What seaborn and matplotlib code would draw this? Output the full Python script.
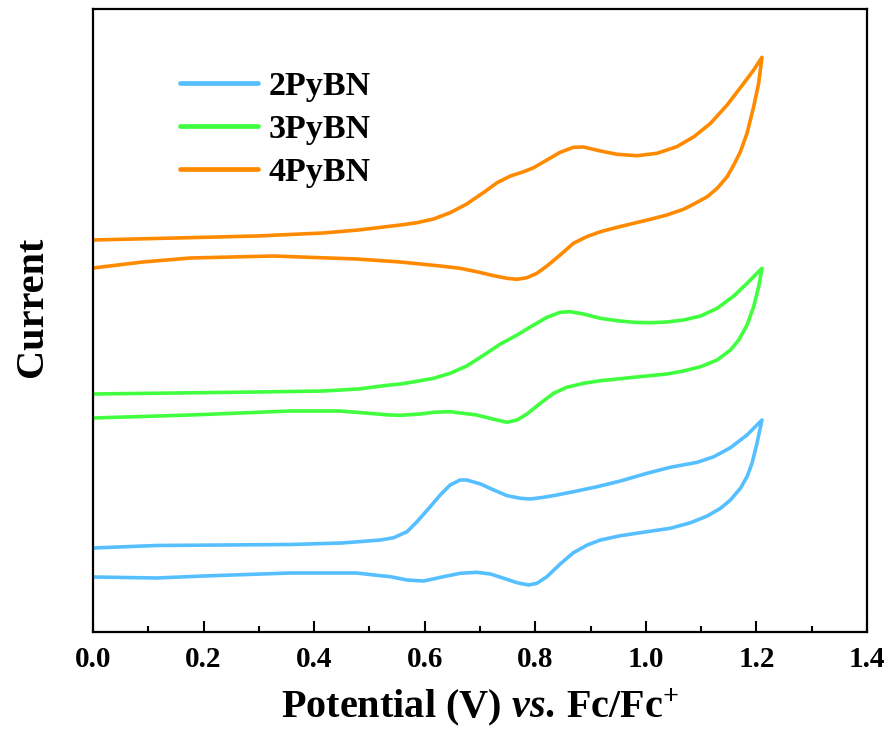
import numpy as np
import pandas as pd
import matplotlib
matplotlib.use("Agg")
import matplotlib.pyplot as plt
from matplotlib.ticker import MultipleLocator
import seaborn as sns

# ---- data (current in arbitrary units) ----
samples = ["2PyBN", "3PyBN", "4PyBN"]
colors = ["#55BFFF", "#3FFF3F", "#FF8A00"]

# 2PyBN: forward (anodic) sweep then reverse sweep
v_2_fwd = [0.000, 0.115, 0.235, 0.357, 0.450, 0.520, 0.544, 0.568, 0.586, 0.610, 0.628, 0.646, 0.664,
           0.676, 0.701, 0.725, 0.749, 0.773, 0.791, 0.815, 0.839, 0.869, 0.912, 0.954, 1.002, 1.044,
           1.093, 1.123, 1.153, 1.183, 1.210]
i_2_fwd = [84.0, 86.5, 87.0, 87.5, 89.0, 92.0, 94.3, 100.3, 110.3, 125.3, 137.0, 147.0, 152.0,
           152.0, 148.0, 142.0, 136.3, 133.7, 133.0, 134.7, 137.0, 140.3, 145.3, 151.0, 158.7, 164.7,
           169.7, 175.3, 184.3, 197.0, 212.0]
v_2_rev = [1.210, 1.201, 1.192, 1.183, 1.171, 1.153, 1.135, 1.111, 1.081, 1.044, 1.002, 0.954, 0.918,
           0.894, 0.869, 0.845, 0.821, 0.803, 0.788, 0.767, 0.743, 0.719, 0.694, 0.664, 0.634, 0.598,
           0.568, 0.538, 0.520, 0.477, 0.357, 0.200, 0.115, 0.000]
i_2_rev = [212.0, 188.7, 168.7, 155.3, 143.7, 132.0, 123.7, 116.0, 109.3, 103.7, 100.3, 96.3, 92.0,
           87.0, 79.3, 68.0, 55.3, 48.7, 47.0, 49.3, 53.7, 58.0, 59.7, 58.7, 55.3, 51.0,
           52.0, 55.3, 56.3, 59.0, 59.0, 56.0, 54.0, 55.0]

# 3PyBN
v_3_fwd = [0.000, 0.150, 0.296, 0.416, 0.480, 0.537, 0.556, 0.586, 0.616, 0.646, 0.676, 0.707, 0.737,
           0.767, 0.797, 0.821, 0.845, 0.863, 0.887, 0.918, 0.948, 0.978, 1.008, 1.038, 1.068, 1.099,
           1.129, 1.159, 1.183, 1.210]
i_3_fwd = [238.0, 239.0, 240.0, 241.0, 243.0, 247.0, 248.0, 250.7, 253.7, 258.7, 266.0, 277.0, 288.0,
           297.0, 307.0, 314.7, 319.7, 320.3, 318.0, 313.7, 311.3, 309.7, 309.3, 310.0, 312.0, 316.0,
           323.7, 336.0, 348.7, 363.7]
v_3_rev = [1.210, 1.204, 1.195, 1.183, 1.168, 1.153, 1.129, 1.099, 1.068, 1.038, 0.978, 0.918, 0.887,
           0.857, 0.833, 0.809, 0.785, 0.767, 0.749, 0.725, 0.694, 0.646, 0.616, 0.592, 0.556, 0.537,
           0.447, 0.357, 0.176, 0.000]
i_3_rev = [363.7, 345.3, 325.3, 307.0, 292.0, 282.0, 272.0, 265.3, 261.0, 258.0, 254.7, 251.3, 248.7,
           244.7, 238.7, 228.7, 218.0, 212.0, 209.7, 212.7, 217.0, 220.3, 219.7, 218.0, 216.7, 217.0,
           221.0, 221.0, 217.0, 214.0]

# 4PyBN
v_4_fwd = [0.000, 0.150, 0.296, 0.416, 0.480, 0.556, 0.586, 0.616, 0.646, 0.676, 0.707, 0.731, 0.755,
           0.779, 0.797, 0.821, 0.845, 0.869, 0.887, 0.918, 0.948, 0.984, 1.020, 1.056, 1.087, 1.117,
           1.147, 1.177, 1.195, 1.210]
i_4_fwd = [392.0, 394.0, 396.0, 399.0, 402.0, 407.0, 409.3, 413.0, 419.3, 428.0, 439.7, 449.3, 456.0,
           460.3, 464.3, 472.0, 479.7, 484.7, 485.0, 481.0, 477.7, 476.3, 478.7, 485.3, 495.3, 508.7,
           527.0, 548.7, 562.0, 574.7]
v_4_rev = [1.210, 1.204, 1.195, 1.183, 1.171, 1.159, 1.147, 1.129, 1.111, 1.087, 1.068, 1.038, 1.008,
           0.978, 0.948, 0.918, 0.893, 0.869, 0.845, 0.821, 0.803, 0.785, 0.767, 0.749, 0.725, 0.694,
           0.664, 0.628, 0.592, 0.556, 0.477, 0.326, 0.176, 0.090, 0.000]
i_4_rev = [574.7, 548.7, 525.3, 498.7, 480.3, 467.0, 455.3, 443.7, 435.3, 428.0, 422.7, 417.0, 412.7,
           408.7, 404.7, 400.3, 395.3, 388.7, 377.0, 366.0, 358.7, 354.3, 352.7, 353.7, 356.3, 360.3,
           363.7, 366.0, 368.0, 370.0, 373.0, 376.0, 374.0, 370.0, 364.0]

x_ticks = [0.0, 0.2, 0.4, 0.6, 0.8, 1.0, 1.2, 1.4]

# ---- build long table ----
rows = []
for name, vf, inf, vr, inr in [
    ("2PyBN", v_2_fwd, i_2_fwd, v_2_rev, i_2_rev),
    ("3PyBN", v_3_fwd, i_3_fwd, v_3_rev, i_3_rev),
    ("4PyBN", v_4_fwd, i_4_fwd, v_4_rev, i_4_rev),
]:
    vv = list(vf) + list(vr)
    ii = list(inf) + list(inr)
    for k, (v, c) in enumerate(zip(vv, ii)):
        rows.append({"Potential": v, "Current": c, "Sample": name, "order": k})
df = pd.DataFrame(rows)

sns.set_theme(style="ticks")
plt.rcParams["font.family"] = ["Liberation Serif", "DejaVu Serif"]
plt.rcParams["font.weight"] = "bold"
plt.rcParams["text.color"] = "black"
plt.rcParams["axes.labelcolor"] = "black"
plt.rcParams["xtick.color"] = "black"
plt.rcParams["ytick.color"] = "black"
plt.rcParams["axes.edgecolor"] = "black"
plt.rcParams["mathtext.fontset"] = "custom"
plt.rcParams["mathtext.rm"] = "Liberation Serif:bold"
plt.rcParams["mathtext.it"] = "Liberation Serif:bold:italic"
plt.rcParams["mathtext.bf"] = "Liberation Serif:bold"

fig = plt.figure(figsize=(8.9, 7.31), dpi=100)
ax = fig.add_axes([93 / 890, 99 / 731, 774 / 890, 623 / 731])

sns.lineplot(data=df, x="Potential", y="Current", hue="Sample", hue_order=samples,
             palette=colors, sort=False, estimator=None, linewidth=2.6, ax=ax,
             legend=True)
for ln in ax.get_lines():
    ln.set_solid_joinstyle("round")
    ln.set_solid_capstyle("round")

ax.set_xlim(0, 1.4)
ax.set_ylim(0, 623)
ax.set_xticks(x_ticks)
ax.set_xticklabels([f"{t:.1f}" for t in x_ticks])
ax.xaxis.set_minor_locator(MultipleLocator(0.1))
ax.set_yticks([])
ax.tick_params(axis="x", which="major", direction="in", length=8, width=1.5,
               labelsize=21, pad=10, top=False, colors="black")
ax.tick_params(axis="x", which="minor", direction="in", length=4, width=1.5, top=False)
for lbl in ax.get_xticklabels():
    lbl.set_fontweight("bold")
for sp in ax.spines.values():
    sp.set_linewidth(1.6)
    sp.set_color("black")

ax.set_xlabel(r"Potential (V) $\mathit{vs.}\,$Fc/Fc$^{+}$", fontsize=29, fontweight="bold",
              labelpad=10, color="black")
ax.set_ylabel("Current", fontsize=29, fontweight="bold", color="black")
ax.yaxis.set_label_coords(-0.054, 0.522)

leg = ax.legend(frameon=False, loc="upper left", bbox_to_anchor=(0.112, 0.901),
                fontsize=24.5, handlelength=2.3, handletextpad=0.3, labelspacing=0.36,
                borderpad=0, borderaxespad=0)
for line in leg.get_lines():
    line.set_linewidth(3.4)
for t in leg.get_texts():
    t.set_fontweight("bold")
    t.set_color("black")

fig.savefig("out.png", dpi=100)
